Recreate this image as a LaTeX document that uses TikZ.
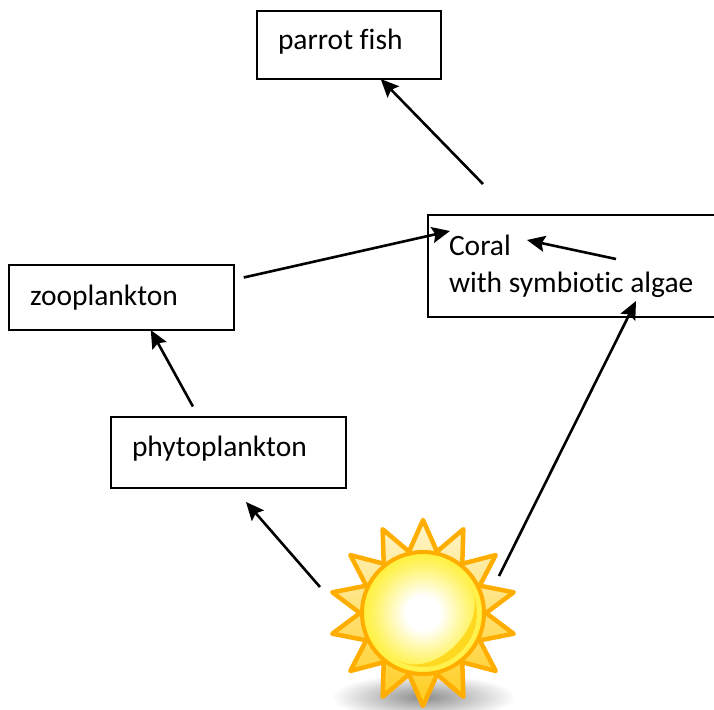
\documentclass[tikz,border=0pt]{standalone}
\usepackage{fontspec}
\setmainfont[Ligatures=NoCommon]{Carlito}
\usetikzlibrary{arrows.meta, calc}
\definecolor{raystroke}{HTML}{FFAE00}
\definecolor{sunedge}{HTML}{FFEC00}
\definecolor{crescent}{HTML}{FFD820}
\definecolor{raytop}{HTML}{FFF6CC}
\definecolor{raylow}{HTML}{FFCC1C}
\pgfdeclareradialshading{sundisc}{\pgfpoint{0bp}{0bp}}{color(0bp)=(white); color(7bp)=(white); color(20bp)=(sunedge!60!white); color(31bp)=(sunedge); color(50bp)=(sunedge)}
\tikzset{
    labelbox/.style={draw=black, line width=2pt, anchor=north west, align=left, outer sep=0pt, inner xsep=21pt, inner ysep=0pt, font=\fontsize{29.5}{37}\selectfont, execute at begin node={\spaceskip=6.6pt\relax}},
    flow/.style={->, line width=2.6pt, black}
}

\begin{document}
\begin{tikzpicture}[x=1pt, y=-1pt, >={Stealth[length=18pt, width=16pt, inset=3pt]}]
        \useasboundingbox (0,0) rectangle (714,709);

        % Boxes
        \node[labelbox, text width=142pt, text height=39pt, text depth=29pt] (parrot) at (257,11) {parrot fish};
        \node[labelbox, text width=245pt, text height=40pt, text depth=62pt] (coral) at (428,215) {Coral\\\mbox{with symbiotic algae}};
        \node[labelbox, text width=183pt, text height=40pt, text depth=25pt] (zoo) at (9,265) {zooplankton};
        \node[labelbox, text width=193pt, text height=39pt, text depth=32pt] (phyto) at (111,417) {phytoplankton};

        % Sun shadow
        \shade[inner color=black!45, outer color=white] (423,697) ellipse (92 and 23);

        % Rays of the sun
        \coordinate (sunc) at (423,613);
        \shade[top color=raytop, bottom color=raylow, draw=raystroke, line width=4.5pt, line join=round]
            ($(sunc)+(-90:93)$)
            \foreach \k in {1,...,14} {
                -- ($(sunc)+({-90+(\k-0.5)*360/14}:63)$) -- ($(sunc)+({-90+\k*360/14}:93)$)
            } -- cycle;

        % Disc of the sun
        \node[circle, draw=raystroke, line width=4pt, minimum size=122pt, inner sep=0pt, shading=sundisc, shade] (sun) at (sunc) {};
        \fill[crescent] ($(sunc)+(-33:54)$) arc[start angle=-33, end angle=122, radius=54]
            .. controls ($(sunc)+(80:72)$) and ($(sunc)+(5:72)$) .. cycle;

        % Free ends of the arrows
        \coordinate (coralTop) at (483,184);
        \coordinate (coralIn) at (450,231);
        \coordinate (algaeFrom) at (616,259);
        \coordinate (algaeTo) at (527,240);
        \coordinate (coralLow) at (636,301);
        \coordinate (sunRight) at (499,576);
        \coordinate (sunLeft) at (320,587);
        \coordinate (phytoLow) at (246,502);

        % Arrows
        \draw[flow] (coralTop) -- (parrot.-47);
        \draw[flow, shorten <=10pt] (zoo.9) -- (coralIn);
        \draw[flow] (algaeFrom) -- (algaeTo);
        \draw[flow] (sunRight) -- (coralLow);
        \draw[flow, shorten <=12pt] (phyto.130) -- (zoo.-48);
        \draw[flow] (sunLeft) -- (phytoLow);
    \end{tikzpicture}
\end{document}
